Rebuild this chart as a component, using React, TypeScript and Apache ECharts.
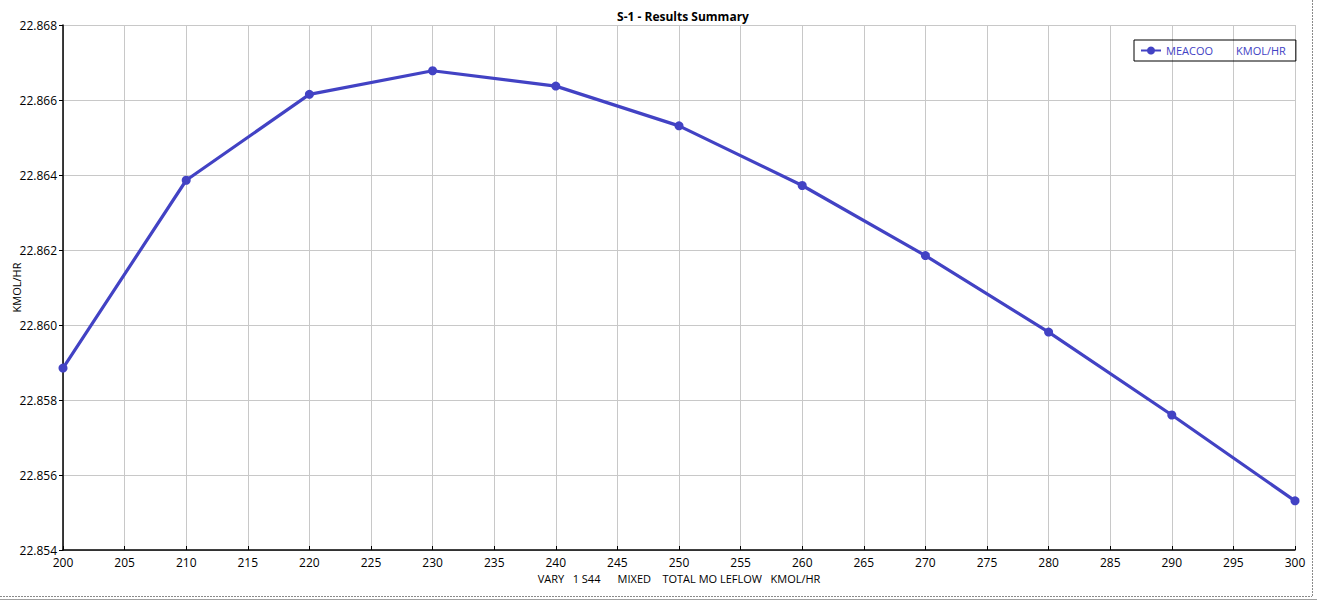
import React, { useEffect, useRef } from "react";
import * as echarts from "echarts";

const xValues = [200, 210, 220, 230, 240, 250, 260, 270, 280, 290, 300];
const meacoo = [22.85885, 22.86386, 22.86615, 22.86678, 22.86637, 22.86531, 22.86372, 22.86185, 22.85981, 22.8576, 22.85531];
const seriesName = "MEACOO";
const seriesUnit = "KMOL/HR";
const titleText = "S-1 - Results Summary";
const xAxisName = "VARY   1 S44      MIXED    TOTAL MO LEFLOW   KMOL/HR";
const yAxisName = "KMOL/HR";

const FONT = "'Open Sans', 'Noto Sans', sans-serif";
const LINE_COLOR = "#4242c4";

export default function App() {
  const ref = useRef<HTMLDivElement>(null);
  useEffect(() => {
    document.body.style.margin = "0";
    const chart = echarts.init(ref.current!, null, { renderer: "svg" });
    chart.setOption({
      animation: false,
      backgroundColor: "#ffffff",
      textStyle: { fontFamily: FONT },
      title: {
        text: titleText,
        left: 678,
        textAlign: "center",
        top: 5,
        textStyle: { fontSize: 12, fontWeight: "bold", color: "#000", fontFamily: FONT },
      },
      legend: {
        left: 1134,
        top: 40,
        padding: [5, 10, 5, 6],
        borderColor: "#000",
        borderWidth: 1,
        itemWidth: 20,
        itemHeight: 10,
        itemGap: 4,
        formatter: (name: string) => `{a|${name}}{b|${seriesUnit}}`,
        textStyle: {
          color: LINE_COLOR,
          fontSize: 11,
          fontFamily: FONT,
          rich: {
            a: { width: 70, color: LINE_COLOR, fontSize: 11, fontFamily: FONT },
            b: { color: LINE_COLOR, fontSize: 11, fontFamily: FONT },
          },
        },
        data: [seriesName],
      },
      grid: { left: 63, right: 22, top: 25, bottom: 50, containLabel: false, outerBoundsMode: "none" },
      xAxis: {
        type: "value",
        min: 200,
        max: 300,
        interval: 5,
        name: xAxisName,
        nameLocation: "middle",
        nameGap: 23,
        nameMoveOverlap: false,
        nameTextStyle: { color: "#000", fontSize: 11, fontFamily: FONT },
        axisLine: { show: true, onZero: false, lineStyle: { color: "#000", width: 1.5 } },
        axisTick: { show: true, inside: true, length: 4, lineStyle: { color: "#000" } },
        axisLabel: { color: "#000", fontSize: 12, margin: 6, fontFamily: FONT },
        splitLine: { show: true, lineStyle: { color: "#c8c8c8", width: 1 } },
      },
      yAxis: {
        type: "value",
        min: 22.854,
        max: 22.868,
        interval: 0.002,
        name: yAxisName,
        nameLocation: "middle",
        nameGap: 41,
        nameMoveOverlap: false,
        nameTextStyle: { color: "#000", fontSize: 11, fontFamily: FONT },
        axisLine: { show: true, onZero: false, lineStyle: { color: "#000", width: 1.5 } },
        axisTick: { show: true, inside: false, length: 4, lineStyle: { color: "#000" } },
        axisLabel: {
          color: "#000",
          fontSize: 12,
          margin: 6,
          fontFamily: FONT,
          formatter: (v: number) => v.toFixed(3),
        },
        splitLine: { show: true, lineStyle: { color: "#c8c8c8", width: 1 } },
      },
      series: [
        {
          name: seriesName,
          type: "line",
          data: xValues.map((x, i) => [x, meacoo[i]]),
          symbol: "circle",
          symbolSize: 9,
          showSymbol: true,
          itemStyle: { color: LINE_COLOR },
          lineStyle: { color: LINE_COLOR, width: 3.2 },
          clip: false,
        },
      ],
      graphic: [
        {
          type: "line",
          shape: { x1: 0, y1: 596.5, x2: 1312, y2: 596.5 },
          style: { stroke: "#8a8a8a", lineWidth: 1, lineDash: [2, 1] },
        },
        {
          type: "line",
          shape: { x1: 0, y1: 599.5, x2: 1317, y2: 599.5 },
          style: { stroke: "#a0a0a0", lineWidth: 1 },
        },
        {
          type: "line",
          shape: { x1: 1312.5, y1: 0, x2: 1312.5, y2: 597 },
          style: { stroke: "#8a8a8a", lineWidth: 1, lineDash: [2, 1] },
        },
      ],
    });
    return () => chart.dispose();
  }, []);
  return <div ref={ref} style={{ width: 1317, height: 600 }} />;
}
